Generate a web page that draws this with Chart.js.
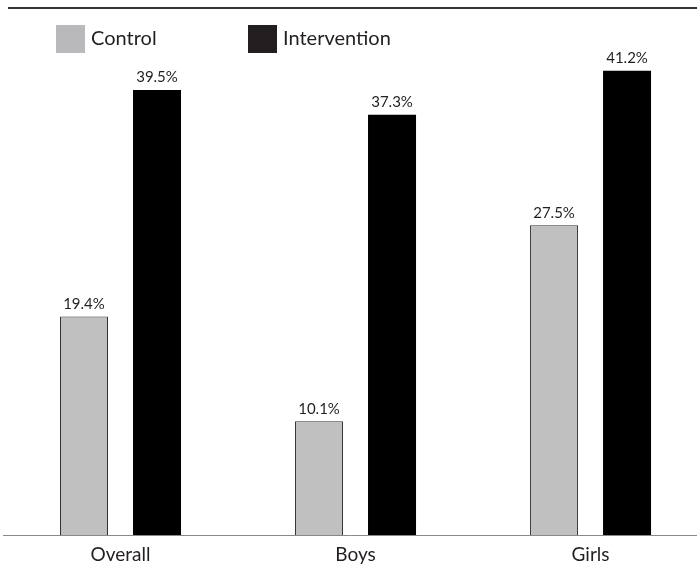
<!DOCTYPE html>
<html>
<head>
<meta charset="utf-8">
<script src="https://cdn.jsdelivr.net/npm/chart.js@4.4.0/dist/chart.umd.min.js"></script>
<style>
    body { margin: 0; background: #fff; }
    #wrap { position: relative; width: 697px; height: 571px; }
    #topLine { position: absolute; left: 8px; right: 0; top: 7px; height: 2px; background: #333; }
    .leyenda { position: absolute; top: 25px; font-family: Lato, sans-serif; font-size: 20px; color: #231f20; line-height: 28px; }
    .leyenda span.caja { position: absolute; left: 0; top: 0; width: 29px; height: 28px; }
    .leyenda span.texto { position: absolute; left: 35px; top: -2px; white-space: nowrap; }
</style>
</head>
<body>
<div id="wrap">
    <canvas id="grafico" width="697" height="571"></canvas>
    <div id="topLine"></div>
    <div class="leyenda" style="left:56px"><span class="caja" style="background:#b9b9bc"></span><span class="texto">Control</span></div>
    <div class="leyenda" style="left:248px"><span class="caja" style="background:#231f20"></span><span class="texto">Intervention</span></div>
</div>
<script>
// Datos del gráfico
const categorias = ['Overall', 'Boys', 'Girls'];
const valoresControl = [19.4, 10.1, 27.5];
const valoresIntervencion = [39.5, 37.3, 41.2];

// Puntos {x: índice de categoría, y: valor}
function aPuntos(valores) {
    return valores.map((v, i) => ({ x: i, y: v }));
}

// Etiquetas de valor sobre cada barra
const etiquetasValor = {
    id: 'etiquetasValor',
    afterDatasetsDraw(chart) {
        const ctx = chart.ctx;
        ctx.save();
        ctx.font = '15px Lato, sans-serif';
        ctx.fillStyle = '#231f20';
        ctx.textAlign = 'center';
        ctx.textBaseline = 'bottom';
        chart.data.datasets.forEach((ds, i) => {
            chart.getDatasetMeta(i).data.forEach((bar, j) => {
                ctx.fillText(ds.data[j].y.toFixed(1) + '%', bar.x, bar.y - 5);
            });
        });
        ctx.restore();
    }
};

const ctx = document.getElementById('grafico').getContext('2d');
new Chart(ctx, {
    type: 'bar',
    data: {
        datasets: [{
            label: 'Control',
            data: aPuntos(valoresControl),
            backgroundColor: '#c0c0c0',
            borderColor: '#333',
            borderWidth: 1,
            categoryPercentage: 0.6213,
            barPercentage: 0.6575
        }, {
            label: 'Intervention',
            data: aPuntos(valoresIntervencion),
            backgroundColor: '#000',
            borderColor: '#000',
            borderWidth: 0,
            categoryPercentage: 0.6213,
            barPercentage: 0.6575
        }]
    },
    options: {
        responsive: false,
        animation: false,
        layout: { padding: { top: 28, left: 3, right: 0, bottom: 0 } },
        plugins: {
            legend: { display: false },
            tooltip: { enabled: false }
        },
        scales: {
            x: {
                type: 'linear',
                offset: false,
                min: -0.5,
                max: 2.453,
                grid: { display: false, drawTicks: false },
                border: { display: true, color: '#888', width: 1 },
                ticks: {
                    stepSize: 1,
                    autoSkip: false,
                    color: '#231f20',
                    font: { family: 'Lato, sans-serif', size: 19 },
                    padding: 8,
                    callback: (v) => categorias[v] || ''
                },
                afterBuildTicks: (scale) => {
                    scale.ticks = categorias.map((c, i) => ({ value: i }));
                },
                afterFit: (scale) => { scale.height = 36; }
            },
            y: {
                display: false,
                min: 0,
                max: 45
            }
        }
    },
    plugins: [etiquetasValor]
});
</script>
</body>
</html>
